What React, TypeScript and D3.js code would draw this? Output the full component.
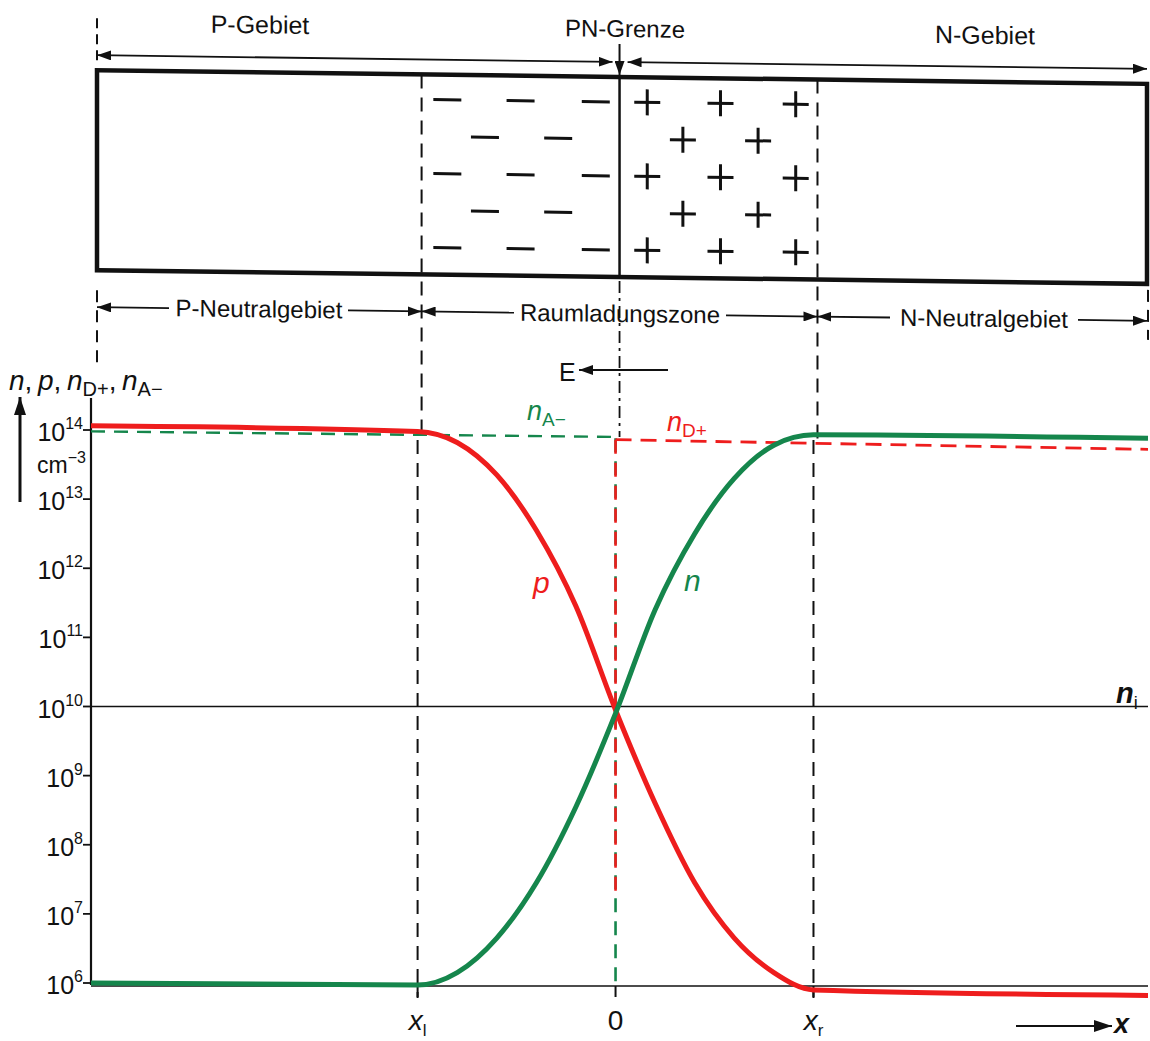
import React from 'react';
import * as d3 from 'd3';

// position along the diode, in units of the half depletion width (x_l = -1, x_r = +1)
const xPos = [-2.65, -1.0, -0.8, -0.6, -0.4, -0.2, 0, 0.2, 0.4, 0.6, 0.8, 1.0, 2.69];
// log10 of the carrier densities in cm^-3
const pLog = [14.06, 13.98, 13.82, 13.35, 12.55, 11.45, 9.95, 8.6, 7.45, 6.65, 6.15, 5.9, 5.82];
const nLog = [6.0, 5.97, 6.15, 6.65, 7.45, 8.55, 9.9, 11.4, 12.5, 13.3, 13.78, 13.93, 13.88];
// ionised acceptors (P side) and donors (N side)
const nAX = [-2.65, 0];
const nALog = [13.98, 13.9];
const nDX = [0, 2.69];
const nDLog = [13.86, 13.72];
// the step of the doping at x = 0
const stepGreenLog = [13.88, 6];
const stepRedLog = [13.86, 7.3];
const niLog = 10;
const decades = [6, 7, 8, 9, 10, 11, 12, 13, 14];
const xTickVals = [-1, 0, 1];
const xTickNames = ['x', '0', 'x'];
const xTickSubs = ['l', '', 'r'];
// space charge signs, columns in the same x units
const minusCols = [[-0.87, -0.5, -0.12], [-0.68, -0.31]];
const plusCols = [[0.14, 0.51, 0.89], [0.32, 0.7]];
const zoneNames = ['P-Neutralgebiet', 'Raumladungszone', 'N-Neutralgebiet'];
const regionNames = ['P-Gebiet', 'PN-Grenze', 'N-Gebiet'];

const RED = '#ee1d1d';
const GREEN = '#15864c';
const FONT = '"Liberation Sans", Arial, Helvetica, sans-serif';

type Pt = [number, number];

export default function App() {
	const x = d3.scaleLinear().domain([-2.65, 2.69]).range([91, 1148]);
	const y = d3.scaleLinear().domain([6, 14]).range([983, 430]);
	const smooth = d3.line<Pt>().x((d) => x(d[0])).y((d) => y(d[1])).curve(d3.curveMonotoneX);
	const straight = d3.line<Pt>().x((d) => x(d[0])).y((d) => y(d[1]));

	const pPts = xPos.map((v, i) => [v, pLog[i]] as Pt);
	const nPts = xPos.map((v, i) => [v, nLog[i]] as Pt);
	const nAPts = nAX.map((v, i) => [v, nALog[i]] as Pt);
	const nDPts = nDX.map((v, i) => [v, nDLog[i]] as Pt);
	const stepG = stepGreenLog.map((v) => [0, v] as Pt);
	const stepR = stepRedLog.map((v) => [0, v] as Pt);

	const boxL = 93;
	const boxR = 1143;
	const boxT = 77;
	const boxB = 277;
	const rows = [102, 139, 176, 213, 250];
	const xl = x(-1);
	const x0 = x(0);
	const xr = x(1);

	const dash = '14 9';
	const ink = '#111';

	return (
		<svg width={1150} height={1041} style={{ position: 'absolute', left: 0, top: 0, background: '#fff' }}
			fontFamily={FONT}>
			<defs>
				<marker id="ah" viewBox="0 0 14 10" refX={14} refY={5} markerWidth={14} markerHeight={10}
					markerUnits="userSpaceOnUse" orient="auto-start-reverse">
					<path d="M0,0L14,5L0,10z" fill={ink} />
				</marker>
				<marker id="ahBig" viewBox="0 0 18 12" refX={18} refY={6} markerWidth={18} markerHeight={12}
					markerUnits="userSpaceOnUse" orient="auto-start-reverse">
					<path d="M0,0L18,6L0,12z" fill={ink} />
				</marker>
			</defs>

			{/* diode sketch, slightly sheared like the scan */}
			<g transform="matrix(1,0.013,0,1,4,-8)" stroke={ink} fill="none">
				<text x={256} y={38} textAnchor="middle" fontSize={25} fill={ink} stroke="none">{regionNames[0]}</text>
				<text x={621} y={37} textAnchor="middle" fontSize={24} fill={ink} stroke="none">{regionNames[1]}</text>
				<text x={981} y={39} textAnchor="middle" fontSize={25} fill={ink} stroke="none">{regionNames[2]}</text>

				<line x1={boxL} x2={boxL} y1={25} y2={67} strokeWidth={2} strokeDasharray="10 6" />
				<line x1={boxL} x2={x0 - 7} y1={62} y2={62} strokeWidth={1.8} markerStart="url(#ah)" markerEnd="url(#ah)" />
				<line x1={x0 + 8} x2={boxR} y1={62} y2={62} strokeWidth={1.8} markerStart="url(#ah)" markerEnd="url(#ah)" />
				<line x1={x0} x2={x0} y1={44} y2={boxT - 2} strokeWidth={2} markerEnd="url(#ah)" />

				<rect x={boxL} y={boxT} width={boxR - boxL} height={boxB - boxT} strokeWidth={4.5} />
				<line x1={x0} x2={x0} y1={boxT} y2={boxB} strokeWidth={2.5} />
				<line x1={xl} x2={xl} y1={boxT} y2={440} strokeWidth={2} strokeDasharray={dash} />
				<line x1={xr} x2={xr} y1={boxT} y2={440} strokeWidth={2} strokeDasharray={dash} />
				<line x1={x0} x2={x0} y1={boxB + 4} y2={437} strokeWidth={1.8} strokeDasharray="12 5 3 5" />
				<line x1={boxL} x2={boxL} y1={297} y2={377} strokeWidth={2} strokeDasharray="12 8" />
				<line x1={boxR + 1} x2={boxR + 1} y1={283} y2={333} strokeWidth={2} strokeDasharray="12 8" />

				{rows.map((ry, r) => (minusCols[r % 2].map((c) => (
					<line key={`m${r}${c}`} x1={x(c) - 14} x2={x(c) + 14} y1={ry} y2={ry} strokeWidth={3} />
				))))}
				{rows.map((ry, r) => (plusCols[r % 2].map((c) => (
					<g key={`p${r}${c}`}>
						<line x1={x(c) - 13} x2={x(c) + 13} y1={ry} y2={ry} strokeWidth={3} />
						<line x1={x(c)} x2={x(c)} y1={ry - 13} y2={ry + 13} strokeWidth={3} />
					</g>
				))))}

				<line x1={boxL} x2={165} y1={314} y2={314} strokeWidth={1.8} markerStart="url(#ah)" />
				<line x1={344} x2={xl} y1={314} y2={314} strokeWidth={1.8} markerEnd="url(#ah)" />
				<text x={255} y={322} textAnchor="middle" fontSize={24} fill={ink} stroke="none">{zoneNames[0]}</text>
				<line x1={xl} x2={510} y1={314} y2={314} strokeWidth={1.8} markerStart="url(#ah)" />
				<line x1={722} x2={xr} y1={314} y2={314} strokeWidth={1.8} markerEnd="url(#ah)" />
				<text x={616} y={322} textAnchor="middle" fontSize={24} fill={ink} stroke="none">{zoneNames[1]}</text>
				<line x1={xr} x2={886} y1={314} y2={314} strokeWidth={1.8} markerStart="url(#ah)" />
				<line x1={1074} x2={boxR} y1={314} y2={314} strokeWidth={1.8} markerEnd="url(#ah)" />
				<text x={980} y={322} textAnchor="middle" fontSize={24} fill={ink} stroke="none">{zoneNames[2]}</text>
			</g>

			{/* field direction */}
			<text x={559} y={381} fontSize={25} fill={ink}>E</text>
			<line x1={668} x2={579} y1={370} y2={370} stroke={ink} strokeWidth={2} markerEnd="url(#ah)" />

			{/* y axis */}
			<text x={9} y={390} fontSize={28} fill={ink}>
				<tspan fontStyle="italic">n</tspan>,{'\u2009'}<tspan fontStyle="italic">p</tspan>,{'\u2009'}<tspan fontStyle="italic">n</tspan>
				<tspan fontSize={20} dy={6}>D+</tspan>
				<tspan dy={-6}>,{'\u2009'}</tspan><tspan fontStyle="italic">n</tspan>
				<tspan fontSize={20} dy={6}>A−</tspan>
			</text>
			<line x1={20} x2={20} y1={502} y2={397} stroke={ink} strokeWidth={3} markerEnd="url(#ahBig)" />
			<text x={37} y={473} fontSize={23} fill={ink}>cm<tspan fontSize={16} dy={-10}>−3</tspan></text>
			<line x1={x(-2.65)} x2={x(-2.65)} y1={398} y2={y(6) + 2} stroke={ink} strokeWidth={2.2} />
			{decades.map((d) => (
				<g key={d}>
					<line x1={x(-2.65) - 8} x2={x(-2.65)} y1={y(d)} y2={y(d)} stroke={ink} strokeWidth={1.8} />
					<text x={x(-2.65) - 8} y={y(d) + 11} textAnchor="end" fontSize={25} fill={ink}>
						10<tspan fontSize={16} dy={-12}>{d}</tspan>
					</text>
				</g>
			))}

			{/* guide lines */}
			<line x1={xl} x2={xl} y1={440} y2={998} stroke={ink} strokeWidth={2} strokeDasharray={dash} />
			<line x1={xr} x2={xr} y1={440} y2={998} stroke={ink} strokeWidth={2} strokeDasharray={dash} />
			<line x1={x(-2.65)} x2={x(2.69)} y1={y(niLog)} y2={y(niLog)} stroke={ink} strokeWidth={1.6} />
			<text x={1116} y={703} fontSize={29} fontStyle="italic" fontWeight="bold" fill={ink}>n<tspan fontSize={18} fontStyle="normal" fontWeight="normal" dy={6}>i</tspan></text>

			{/* x axis */}
			<line x1={x(-2.65)} x2={x(2.69)} y1={y(6) + 3} y2={y(6) + 3} stroke={ink} strokeWidth={1.6} />
			{xTickVals.map((v, i) => (
				<g key={v}>
					<line x1={x(v)} x2={x(v)} y1={y(6) + 3} y2={y(6) + 14} stroke={ink} strokeWidth={2} />
					<text x={x(v)} y={1030} textAnchor="middle" fontSize={28} fill={ink}>
						<tspan fontStyle={xTickSubs[i] ? 'italic' : 'normal'}>{xTickNames[i]}</tspan>
						{xTickSubs[i] ? <tspan fontSize={17} dy={6}>{xTickSubs[i]}</tspan> : null}
					</text>
				</g>
			))}
			<line x1={1016} x2={1112} y1={1026} y2={1026} stroke={ink} strokeWidth={2.2} markerEnd="url(#ahBig)" />
			<text x={1114} y={1033} fontSize={27} fontStyle="italic" fontWeight="bold" fill={ink}>x</text>

			{/* doping levels */}
			<path d={straight(stepG) || ''} fill="none" stroke={GREEN} strokeWidth={2.6} strokeDasharray={dash} />
			<path d={straight(stepR) || ''} fill="none" stroke={RED} strokeWidth={2.6} strokeDasharray={dash} />
			<path d={straight(nAPts) || ''} fill="none" stroke={GREEN} strokeWidth={2.4} strokeDasharray={dash} />
			<path d={straight(nDPts) || ''} fill="none" stroke={RED} strokeWidth={2.8} strokeDasharray="16 9" />

			{/* carrier densities */}
			<path d={smooth(pPts) || ''} fill="none" stroke={RED} strokeWidth={5} />
			<path d={smooth(nPts) || ''} fill="none" stroke={GREEN} strokeWidth={5} />

			<text x={533} y={593} fontSize={30} fontStyle="italic" fill={RED}>p</text>
			<text x={684} y={591} fontSize={30} fontStyle="italic" fill={GREEN}>n</text>
			<text x={527} y={420} fontSize={27} fill={GREEN}><tspan fontStyle="italic">n</tspan><tspan fontSize={19} dy={6}>A−</tspan></text>
			<text x={667} y={431} fontSize={27} fill={RED}><tspan fontStyle="italic">n</tspan><tspan fontSize={19} dy={6}>D+</tspan></text>
		</svg>
	);
}
